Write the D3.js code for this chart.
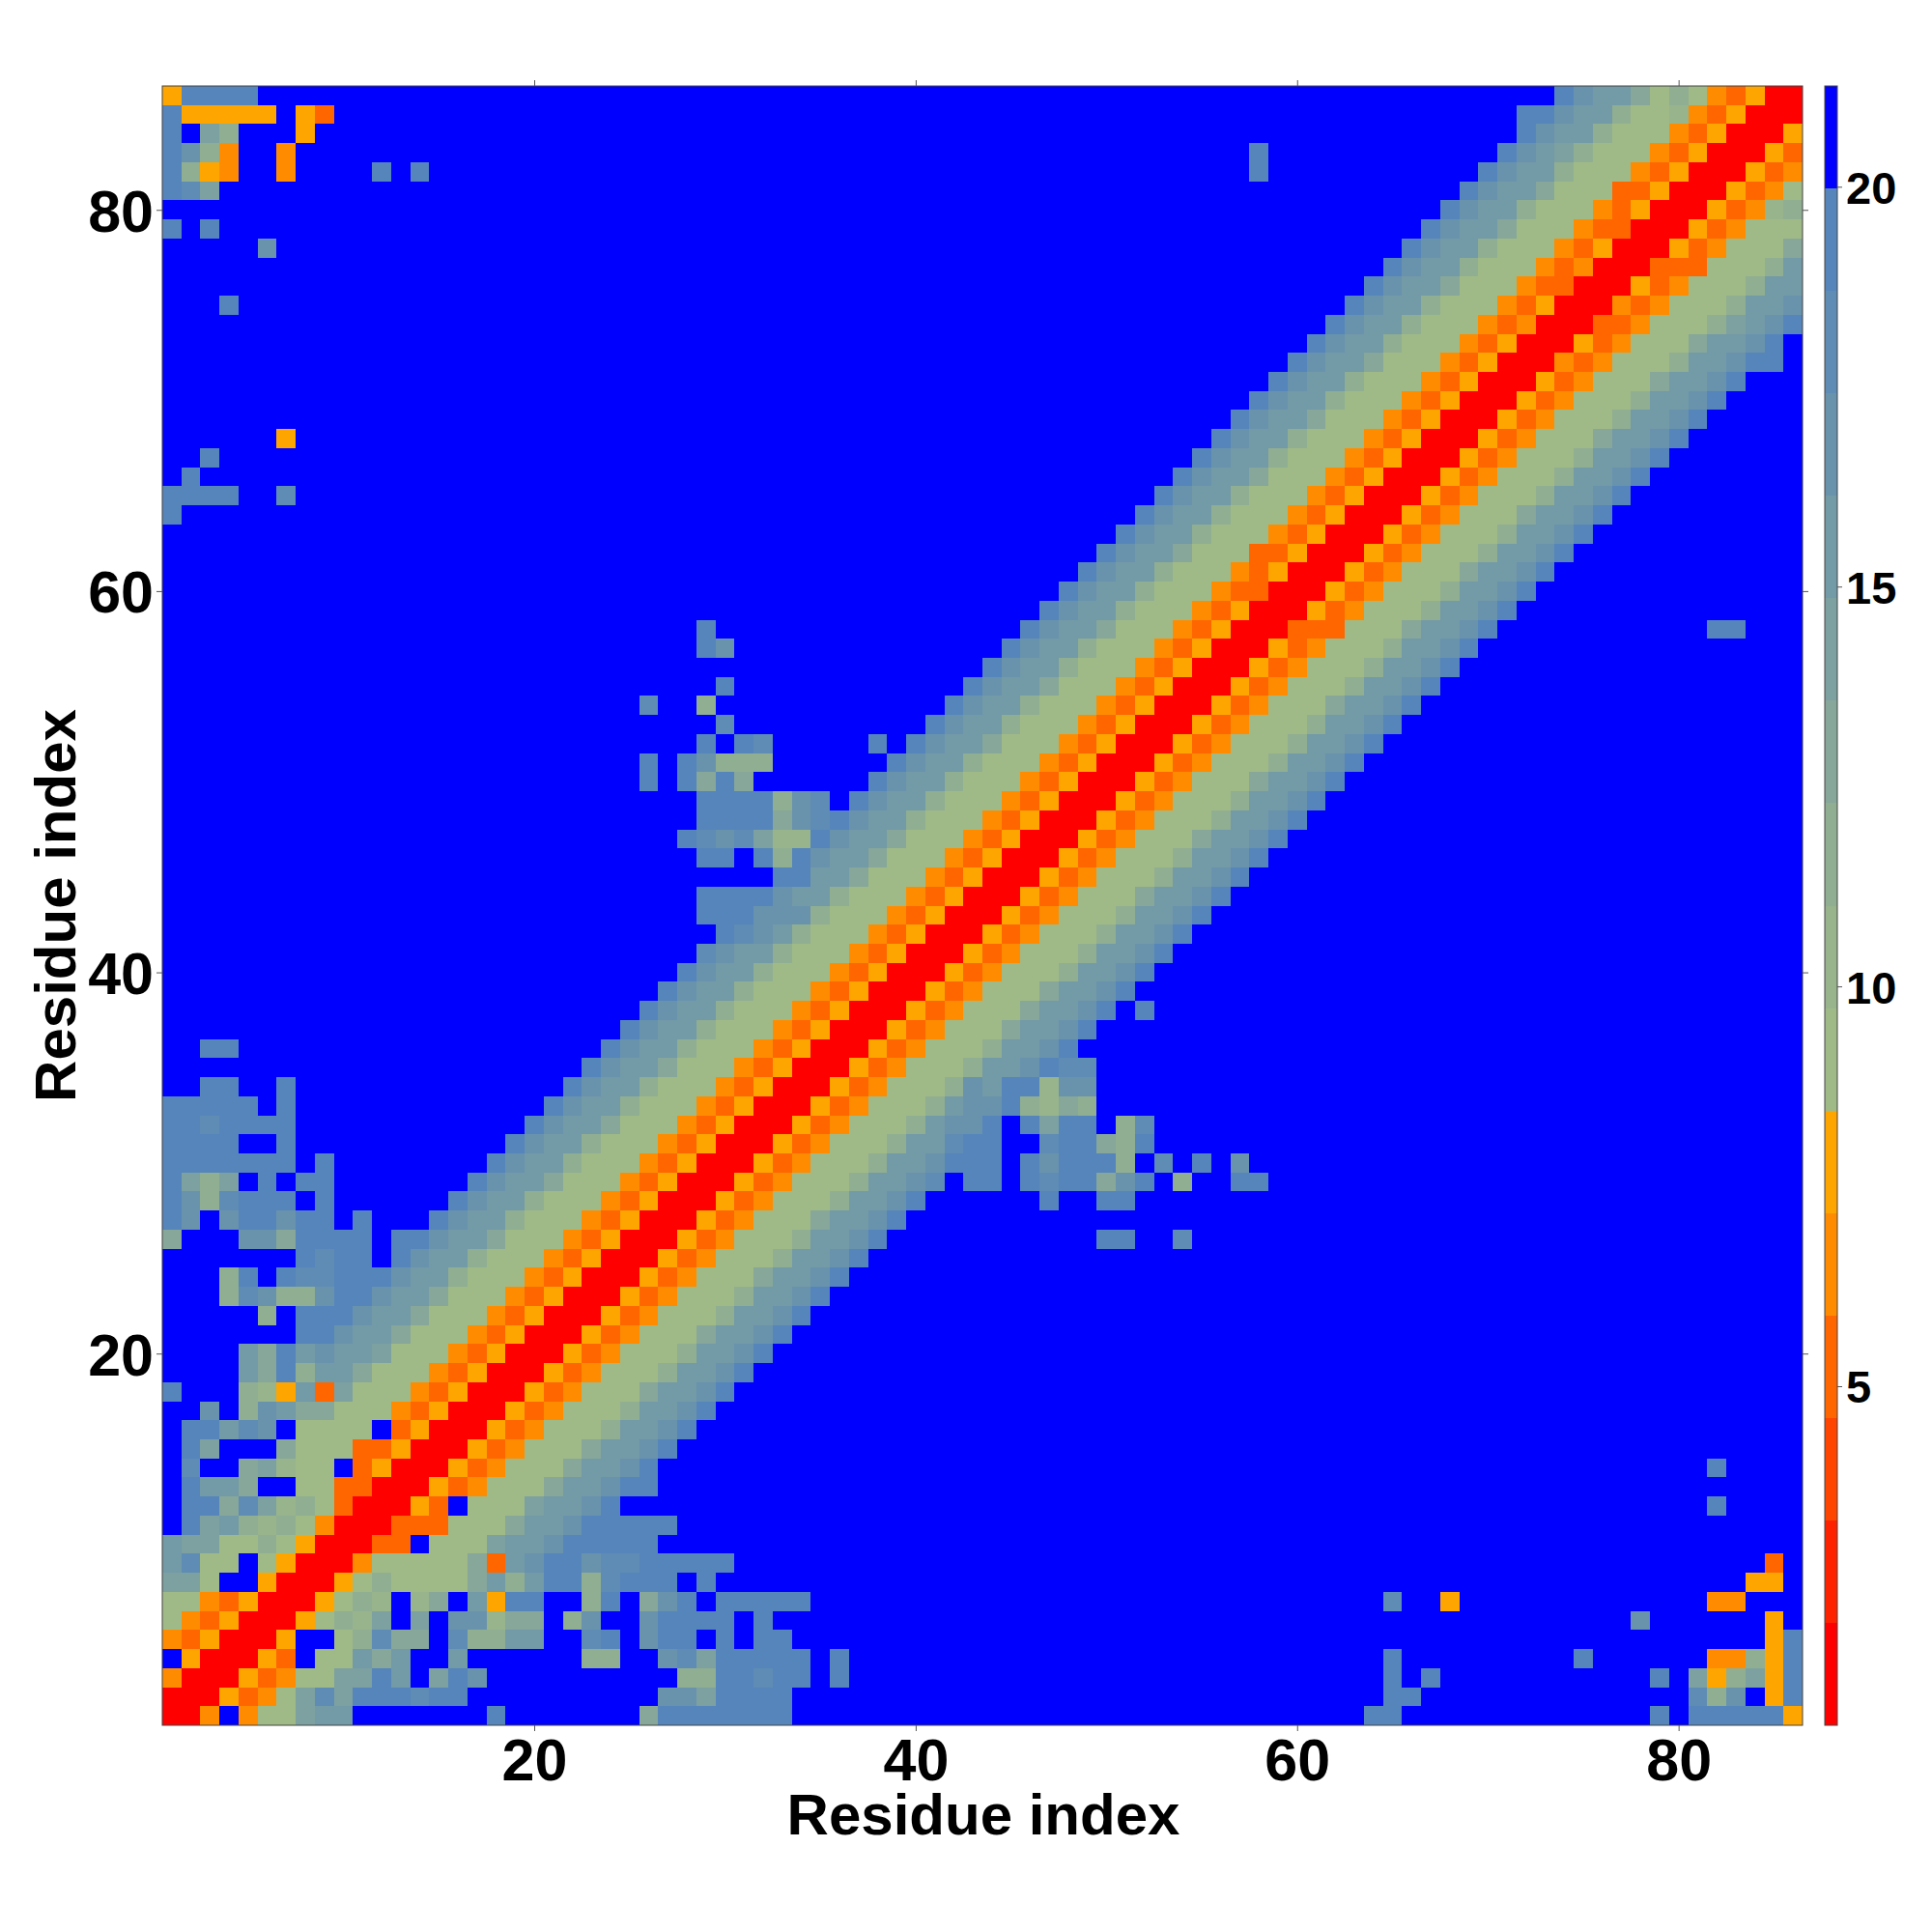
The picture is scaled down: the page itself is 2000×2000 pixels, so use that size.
<!DOCTYPE html>
<html><head><meta charset="utf-8">
<script src="https://cdnjs.cloudflare.com/ajax/libs/d3/7.8.5/d3.min.js"></script>
<style>html,body{margin:0;padding:0;background:#fff}svg{display:block}text{font-family:"Liberation Sans",sans-serif;font-weight:bold;fill:#000}</style>
</head><body><svg id="c" width="2000" height="2000"></svg>
<script>
const residueCount = 86;
const levelColors = ["#ff0000","#ff2200","#ff4500","#ff6600","#ff8c00","#ffa500","#a0ba87","#98b48c","#90ae92","#86a799","#7da1a0","#739aa7","#6993ad","#5f8cb4","#5585bb","#0000ff"];
const levelValues = [1.4,2.68,3.96,5.25,6.53,7.81,9.09,10.37,11.65,12.93,14.21,15.49,16.77,18.05,19.33,20.61];
const mapTicks = [20,40,60,80];
const barTicks = [5,10,15,20];
// [row, first column, level codes (0-f)]; the map is symmetric, everything unlisted is level f
const contacts = [
[1,1,"004f466abb"],[1,18,"e"],[1,26,"9eeeeeee"],[1,64,"ee"],[1,79,"e"],[1,81,"eeeee5"],
[2,2,"005346adaeeedee"],[2,27,"ccaeeee"],[2,65,"ee"],[2,81,"d8cf5e"],
[3,3,"0053466aaebfaec"],[3,28,"88eedee"],[3,36,"e"],[3,65,"e"],[3,67,"e"],[3,79,"e"],[3,81,"a58a5e"],
[4,4,"0053f66b9bffb"],[4,23,"88"],[4,27,"cdaeeeee"],[4,36,"e"],[4,65,"e"],[4,75,"e"],[4,82,"4485e"],
[5,5,"005ff68d99fd88bb"],[5,23,"de"],[5,26,"ceefefee"],[5,85,"5e"],
[6,6,"005687afafcc799"],[6,22,"8c"],[6,26,"ceeeefe"],[6,78,"c"],[6,85,"5"],
[7,7,"005687f79fb5ee"],[7,23,"8e"],[7,26,"9cefeeeee"],[7,65,"d"],[7,68,"5"],[7,82,"44"],
[8,8,"0056866669b8bee8deee"],[8,29,"e"],[8,84,"55"],
[9,9,"0046666693bceecddeeeee"],[9,85,"3"],
[10,10,"0033f666abbceeeee"],
[11,11,"003336669bbceeeee"],
[12,12,"0053f666abbce"],[12,82,"e"],
[13,13,"005346669bbcee"],
[14,14,"005346669bbce"],[14,82,"e"],
[15,15,"005346669bbce"],
[16,16,"005346668bbce"],
[17,17,"005346668bbce"],[18,18,"005346669bbce"],[19,19,"005346668bbce"],[20,20,"005346668bbce"],
[21,21,"005346669bbce"],[22,22,"005346668bbce"],[23,23,"005346668bbce"],[24,24,"005346669bbce"],
[25,25,"005346668bbce"],
[26,26,"005346668bbce"],[26,50,"ee"],[26,54,"d"],
[27,27,"005346669bbce"],
[28,28,"005346668bbce"],[28,47,"e"],[28,50,"ee"],
[29,29,"005346668bbcd"],[29,43,"eefedee9ce"],[29,54,"8"],[29,57,"ee"],
[30,30,"005346668bbce"],[30,43,"eefeceee8fd"],[30,55,"e"],[30,57,"c"],
[31,31,"005346668bbde"],[31,44,"effdee98e"],
[32,32,"005346668bcce"],[32,45,"feaeef8d"],
[33,33,"005346668bcce"],[33,46,"8798"],
[34,34,"005346668cbee"],[34,47,"7cc"],
[35,35,"005346668bbce"],[35,48,"dd"],
[36,36,"005346668bbce"],
[37,37,"005346669bbce"],
[38,38,"005346669bbce"],[38,52,"e"],
[39,39,"005346669bbce"],[40,40,"005346668bbce"],[41,41,"005346668bbce"],[42,42,"005346668bbce"],
[43,43,"005346668bbce"],[44,44,"005346669bbce"],[45,45,"005346668bbce"],[46,46,"005346668bbce"],
[47,47,"005346669bbce"],[48,48,"005346668bbce"],[49,49,"005346668bbce"],[50,50,"005346669bbce"],
[51,51,"005346668bbce"],[52,52,"005346668bbce"],[53,53,"005346668bbce"],[54,54,"005346669bbce"],
[55,55,"005346668bbce"],[56,56,"005346668bbce"],[57,57,"005346668bbce"],[58,58,"003336669bbce"],[58,82,"ee"],
[59,59,"005346668bbce"],[60,60,"005346668bbce"],[61,61,"005346669bbce"],[62,62,"005346668bbce"],
[63,63,"005346668bbce"],[64,64,"005346669bbce"],[65,65,"005346668bbce"],[66,66,"005346668bbce"],
[67,67,"005346668bbce"],[68,68,"005346669bbce"],[69,69,"005346668bbce"],[70,70,"005346668bbce"],
[71,71,"005346669bbce"],
[72,72,"004346668bbcee"],[73,73,"005346669bbce"],[74,74,"003346668abce"],[75,75,"004346668bbc"],
[76,76,"005346668bb"],[77,77,"003336668b"],[78,78,"005346669"],[79,79,"00534666"],
[80,80,"0053478"],[81,81,"005346"],[82,82,"00534"],[83,83,"0053"],[84,84,"005"],[85,85,"00"],[86,86,"0"]
];

const box = {left:168,right:1866,top:89,bottom:1786};
const svg = d3.select("#c");
const x = d3.scaleLinear().domain([0.5,residueCount+0.5]).range([box.left,box.right]);
const y = d3.scaleLinear().domain([0.5,residueCount+0.5]).range([box.bottom,box.top]);
const barY = d3.scaleLinear().domain([0.76,21.26]).range([box.bottom,box.top]);
const color = d3.scaleQuantize().domain(barY.domain()).range(levelColors);

const grid = d3.range(residueCount).map(()=>d3.range(residueCount).map(()=>15));
contacts.forEach(([r,c,s])=>{
  s.split("").forEach((ch,k)=>{
    const v = parseInt(ch,16);
    grid[r-1][c-1+k]=v; grid[c-1+k][r-1]=v;
  });
});
const cells = grid.flatMap((row,i)=>row.map((lv,j)=>({xi:j+1,yi:i+1,value:levelValues[lv]})));
svg.append("g").attr("shape-rendering","crispEdges").selectAll("rect").data(cells).join("rect")
  .attr("x",d=>x(d.xi-0.5)).attr("y",d=>y(d.yi+0.5))
  .attr("width",d=>x(d.xi+0.5)-x(d.xi-0.5)).attr("height",d=>y(d.yi-0.5)-y(d.yi+0.5))
  .attr("fill",d=>color(d.value));
svg.append("rect").attr("x",box.left).attr("y",box.top).attr("width",box.right-box.left).attr("height",box.bottom-box.top)
  .attr("fill","none").attr("stroke","#444").attr("stroke-width",1);

function styleAxis(g){ g.select(".domain").remove(); g.selectAll("line").attr("stroke","#555").attr("stroke-width",1); }
const bottom = svg.append("g").attr("transform",`translate(0,${box.bottom})`)
  .call(d3.axisBottom(x).tickValues(mapTicks).tickSize(6).tickPadding(5)).call(styleAxis);
bottom.selectAll("text").attr("font-size",61).attr("font-family",null).attr("dy",null).attr("y",57);
const left = svg.append("g").attr("transform",`translate(${box.left},0)`)
  .call(d3.axisLeft(y).tickValues(mapTicks).tickSize(6).tickPadding(5)).call(styleAxis);
left.selectAll("text").attr("font-size",61).attr("font-family",null).attr("x",-9).attr("dy","0.36em");
svg.append("g").attr("transform",`translate(0,${box.top})`)
  .call(d3.axisTop(x).tickValues(mapTicks).tickSize(6).tickFormat("")).call(styleAxis);
svg.append("g").attr("transform",`translate(${box.right},0)`)
  .call(d3.axisRight(y).tickValues(mapTicks).tickSize(6).tickFormat("")).call(styleAxis);

svg.append("text").attr("x",(box.left+box.right)/2+1).attr("y",1899).attr("text-anchor","middle").attr("font-size",60).text("Residue index");
svg.append("text").attr("transform",`translate(78,${(box.top+box.bottom)/2}) rotate(-90)`).attr("text-anchor","middle").attr("font-size",60).text("Residue index");

// colour bar
const barX = 1889, barW = 13;
const step = (barY.domain()[1]-barY.domain()[0])/levelColors.length;
svg.append("g").attr("shape-rendering","crispEdges").selectAll("rect").data(levelColors).join("rect")
  .attr("x",barX).attr("width",barW)
  .attr("y",(d,i)=>barY(barY.domain()[0]+(i+1)*step)).attr("height",(d,i)=>barY(barY.domain()[0]+i*step)-barY(barY.domain()[0]+(i+1)*step))
  .attr("fill",d=>d);
svg.append("rect").attr("x",barX).attr("y",box.top).attr("width",barW).attr("height",box.bottom-box.top).attr("fill","none").attr("stroke","#444").attr("stroke-width",1);
const barAxis = svg.append("g").attr("transform",`translate(${barX+barW},0)`)
  .call(d3.axisRight(barY).tickValues(barTicks).tickSize(5).tickPadding(5)).call(styleAxis);
barAxis.selectAll("text").attr("font-size",47).attr("font-family",null).attr("x",9).attr("dy","0.36em");
</script></body></html>
